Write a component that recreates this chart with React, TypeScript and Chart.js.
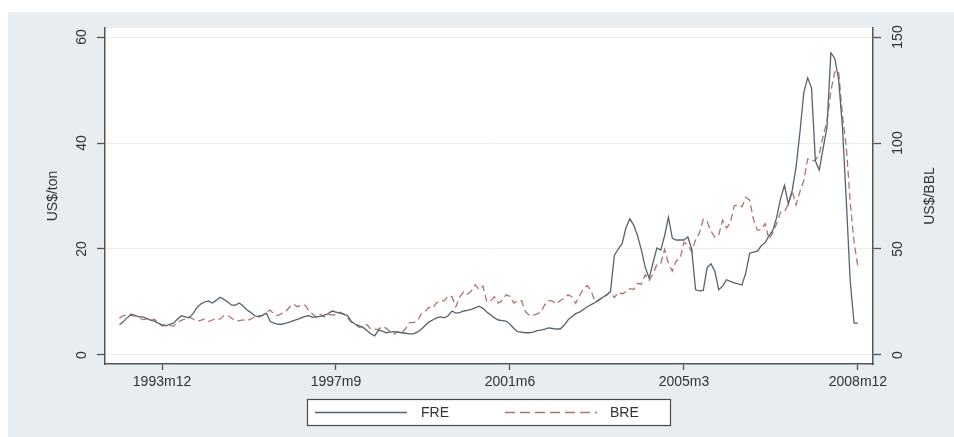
import React, { useEffect, useRef } from 'react';
import { Chart, registerables } from 'chart.js';

Chart.register(...registerables);

// Monthly series, 1993m1 .. 2008m12 (192 months)
const START_YEAR = 1993;

// FRE, US$/ton (left axis)
const FRE: number[] = [
  // 1993
  5.7, 6.3, 7.0, 7.7, 7.5, 7.2, 7.2, 6.9, 6.6, 6.4, 6.0, 5.7,
  // 1994
  5.5, 5.8, 6.0, 6.8, 7.4, 7.2, 7.0, 7.8, 8.9, 9.6, 10.0, 10.2,
  // 1995
  9.8, 10.3, 10.9, 10.5, 10.0, 9.4, 9.4, 9.8, 9.2, 8.5, 8.0, 7.4,
  // 1996
  7.2, 7.5, 7.9, 6.3, 6.0, 5.8, 5.8, 6.0, 6.2, 6.5, 6.7, 7.0,
  // 1997
  7.3, 7.4, 7.1, 7.2, 7.3, 7.5, 7.8, 8.3, 8.1, 7.9, 7.7, 7.4,
  // 1998
  6.3, 5.8, 5.5, 5.2, 4.6, 4.0, 3.6, 4.7, 4.5, 4.2, 4.3, 4.4,
  // 1999
  4.3, 4.2, 4.1, 4.0, 4.0, 4.3, 4.8, 5.5, 6.2, 6.6, 7.0, 7.2,
  // 2000
  7.0, 7.4, 8.3, 7.9, 8.0, 8.3, 8.4, 8.6, 8.9, 9.2, 8.8, 8.1,
  // 2001
  7.6, 7.0, 6.6, 6.5, 6.4, 5.8, 5.0, 4.4, 4.3, 4.2, 4.2, 4.3,
  // 2002
  4.6, 4.7, 4.9, 5.1, 5.0, 4.9, 4.9, 5.6, 6.6, 7.2, 7.8, 8.1,
  // 2003
  8.6, 9.1, 9.5, 9.9, 10.4, 10.9, 11.3, 12.0, 18.8, 20.0, 21.0, 24.0,
  // 2004
  25.7, 24.5, 22.5, 19.8, 16.5, 14.5, 17.4, 20.2, 19.8, 22.5, 26.0, 22.0,
  // 2005
  21.7, 21.7, 21.7, 22.3, 20.0, 12.3, 12.1, 12.2, 16.5, 17.2, 15.8, 12.3,
  // 2006
  13.0, 14.2, 13.9, 13.6, 13.4, 13.2, 15.5, 19.2, 19.4, 19.6, 20.6, 21.2,
  // 2007
  22.5, 23.5, 26.0, 29.5, 32.0, 28.5, 31.0, 35.5, 42.0, 49.5, 52.3, 50.4,
  // 2008
  36.6, 34.9, 39.0, 43.0, 57.0, 56.0, 52.0, 43.0, 29.0, 14.0, 6.0, 6.0,
];

// BRE, US$/BBL (right axis)
const BRE: number[] = [
  // 1993
  17.4, 18.6, 18.7, 18.6, 18.5, 17.7, 16.7, 16.9, 16.3, 16.9, 15.3, 13.7,
  // 1994
  14.4, 13.8, 13.6, 15.4, 16.3, 17.0, 18.0, 17.0, 15.8, 16.3, 17.0, 15.8,
  // 1995
  16.5, 17.2, 16.9, 18.5, 18.6, 17.3, 16.1, 16.2, 16.6, 16.2, 17.0, 18.0,
  // 1996
  18.6, 18.6, 20.3, 21.2, 19.1, 18.6, 19.6, 20.5, 22.6, 24.0, 22.8, 23.5,
  // 1997
  23.5, 20.8, 19.2, 17.6, 19.2, 17.9, 19.1, 18.9, 18.9, 20.2, 19.3, 17.5,
  // 1998
  15.5, 14.4, 13.1, 13.4, 14.4, 12.2, 12.1, 12.1, 13.4, 12.6, 11.0, 9.8,
  // 1999
  11.1, 10.3, 12.5, 15.3, 15.3, 15.9, 19.1, 20.3, 22.5, 22.0, 24.6, 25.5,
  // 2000
  25.5, 27.8, 27.5, 22.8, 27.3, 29.8, 28.7, 30.2, 33.1, 30.9, 32.5, 25.1,
  // 2001
  25.6, 27.5, 24.5, 25.7, 28.4, 27.7, 24.5, 25.7, 25.6, 20.5, 18.7, 18.7,
  // 2002
  19.4, 20.3, 23.7, 25.7, 25.4, 24.1, 25.7, 26.6, 28.4, 27.5, 24.3, 28.0,
  // 2003
  31.2, 32.8, 30.3, 25.0, 25.8, 27.6, 28.4, 29.8, 27.1, 29.6, 28.8, 29.8,
  // 2004
  31.3, 30.9, 33.8, 33.4, 37.9, 35.2, 38.2, 42.7, 43.2, 49.8, 43.1, 39.6,
  // 2005
  44.5, 45.5, 53.1, 51.9, 48.7, 54.3, 57.5, 64.0, 62.9, 58.5, 55.5, 56.7,
  // 2006
  63.6, 59.9, 62.3, 70.4, 70.9, 69.9, 74.4, 73.0, 63.8, 58.9, 59.1, 62.0,
  // 2007
  54.5, 57.8, 62.1, 67.4, 67.5, 71.3, 77.2, 70.8, 77.1, 82.3, 92.5, 91.5,
  // 2008
  91.9, 94.8, 103.3, 110.4, 124.6, 133.5, 133.9, 113.0, 98.1, 72.3, 53.2, 41.6,
];

const X_TICK_LABELS = ['1993m12', '1997m9', '2001m6', '2005m3', '2008m12'];
const LEFT_TICKS = [0, 20, 40, 60];
const RIGHT_TICKS = [0, 50, 100, 150];
const LEFT_TITLE = 'US$/ton';
const RIGHT_TITLE = 'US$/BBL';
const SERIES_NAMES = ['FRE', 'BRE'];

function monthIndex(label: string): number {
  const [y, m] = label.split('m');
  return (Number(y) - START_YEAR) * 12 + (Number(m) - 1);
}

const X_TICK_IDX = X_TICK_LABELS.map(monthIndex);

export default function App() {
  const ref = useRef<HTMLCanvasElement | null>(null);

  useEffect(() => {
    const canvas = ref.current;
    if (!canvas) return;
    const FONT = '"Liberation Sans", Arial, Helvetica, sans-serif';
    const TEXT = '#333333';
    const AXIS = '#555555';
    const FRE_COLOR = '#56636f';
    const BRE_COLOR = '#b07470';
    const BG = '#e7edf0';

    const bgPlugin = {
      id: 'bgPlugin',
      beforeDraw(chart: any) {
        const c = chart.ctx;
        const a = chart.chartArea;
        c.save();
        c.fillStyle = '#ffffff';
        c.fillRect(0, 0, chart.width, chart.height);
        c.fillStyle = BG;
        c.fillRect(8, 12, chart.width - 8, chart.height - 12);
        c.fillStyle = '#ffffff';
        c.fillRect(a.left, a.top, a.right - a.left, a.bottom - a.top);
        c.restore();
      },
    };

    const textPlugin = {
      id: 'textPlugin',
      afterDraw(chart: any) {
        const c = chart.ctx;
        const a = chart.chartArea;
        const yl = chart.scales.y;
        const yr = chart.scales.y2;
        c.save();
        c.fillStyle = TEXT;
        c.font = `14px ${FONT}`;
        c.textAlign = 'center';
        c.textBaseline = 'middle';
        const rot = (txt: string, x: number, y: number) => {
          c.save();
          c.translate(x, y);
          c.rotate(-Math.PI / 2);
          c.fillText(txt, 0, 0);
          c.restore();
        };
        LEFT_TICKS.forEach((v) => rot(String(v), 82, yl.getPixelForValue(v)));
        RIGHT_TICKS.forEach((v) => rot(String(v), 898, yr.getPixelForValue(v)));
        const midY = (a.top + a.bottom) / 2;
        rot(LEFT_TITLE, 53, midY);
        rot(RIGHT_TITLE, 930, midY);

        // legend box
        const lx = 307, ly = 399, lw = 363, lh = 26;
        c.fillStyle = '#ffffff';
        c.fillRect(lx, ly, lw, lh);
        c.strokeStyle = '#4a4a4a';
        c.lineWidth = 1.2;
        c.strokeRect(lx + 0.5, ly + 0.5, lw, lh);
        const cy = ly + lh / 2 + 0.5;
        c.lineWidth = 1.3;
        c.strokeStyle = FRE_COLOR;
        c.setLineDash([]);
        c.beginPath();
        c.moveTo(315, cy);
        c.lineTo(407, cy);
        c.stroke();
        c.strokeStyle = BRE_COLOR;
        c.setLineDash([10, 5]);
        c.beginPath();
        c.moveTo(505, cy);
        c.lineTo(597, cy);
        c.stroke();
        c.setLineDash([]);
        c.fillStyle = TEXT;
        c.textAlign = 'left';
        c.fillText(SERIES_NAMES[0], 421, cy + 1);
        c.fillText(SERIES_NAMES[1], 610, cy + 1);
        c.restore();
      },
    };

    const chart = new Chart(canvas, {
      type: 'line',
      data: {
        datasets: [
          {
            label: SERIES_NAMES[0],
            data: FRE.map((v, i) => ({ x: i, y: v })),
            yAxisID: 'y',
            borderColor: FRE_COLOR,
            borderWidth: 1.3,
            pointRadius: 0,
            tension: 0,
            fill: false,
          },
          {
            label: SERIES_NAMES[1],
            data: BRE.map((v, i) => ({ x: i, y: v })),
            yAxisID: 'y2',
            borderColor: BRE_COLOR,
            borderWidth: 1.3,
            borderDash: [7, 4],
            pointRadius: 0,
            tension: 0,
            fill: false,
          },
        ],
      },
      options: {
        responsive: false,
        animation: false,
        events: [],
        layout: { padding: { top: 28, left: 0, right: 0, bottom: 0 } },
        plugins: {
          legend: { display: false },
          tooltip: { enabled: false },
        },
        scales: {
          x: {
            type: 'linear',
            min: -3.75,
            max: 194.9,
            afterBuildTicks: (s: any) => {
              s.ticks = X_TICK_IDX.map((v) => ({ value: v }));
            },
            ticks: {
              autoSkip: false,
              maxRotation: 0,
              minRotation: 0,
              padding: 4,
              color: TEXT,
              font: { size: 14, family: FONT },
              callback: (v: any) => {
                const k = X_TICK_IDX.indexOf(Number(v));
                return k >= 0 ? X_TICK_LABELS[k] : '';
              },
            },
            grid: {
              drawOnChartArea: false,
              drawTicks: true,
              tickLength: 6,
              tickColor: AXIS,
              tickWidth: 1.3,
            },
            border: { display: true, color: AXIS, width: 1.5 },
            afterFit: (s: any) => {
              s.height = 73;
            },
          },
          y: {
            type: 'linear',
            position: 'left',
            min: -1.7,
            max: 61.7,
            afterBuildTicks: (s: any) => {
              s.ticks = LEFT_TICKS.map((v) => ({ value: v }));
            },
            ticks: { display: false },
            grid: {
              color: '#e8eef0',
              lineWidth: 1,
              drawTicks: true,
              tickLength: 8,
              tickColor: AXIS,
              tickWidth: 1.3,
            },
            border: { display: true, color: AXIS, width: 1.5 },
            afterFit: (s: any) => {
              s.width = 105;
            },
          },
          y2: {
            type: 'linear',
            position: 'right',
            min: -4.25,
            max: 154.25,
            afterBuildTicks: (s: any) => {
              s.ticks = RIGHT_TICKS.map((v) => ({ value: v }));
            },
            ticks: { display: false },
            grid: {
              drawOnChartArea: false,
              drawTicks: true,
              tickLength: 8,
              tickColor: AXIS,
              tickWidth: 1.3,
            },
            border: { display: true, color: AXIS, width: 1.5 },
            afterFit: (s: any) => {
              s.width = 81;
            },
          },
        },
      } as any,
      plugins: [bgPlugin, textPlugin],
    });

    return () => {
      chart.destroy();
    };
  }, []);

  return (
    <div style={{ position: 'fixed', left: 0, top: 0, width: 954, height: 437, background: '#ffffff' }}>
      <canvas ref={ref} width={954} height={437} style={{ display: 'block', width: 954, height: 437 }} />
    </div>
  );
}
